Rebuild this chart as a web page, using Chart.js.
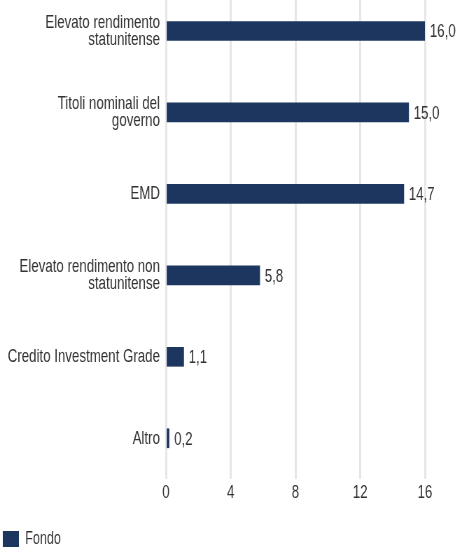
<!DOCTYPE html>
<html>
<head>
<meta charset="utf-8">
<script src="https://cdn.jsdelivr.net/npm/chart.js@4"></script>
<style>
  html, body { margin: 0; padding: 0; background: #fff; overflow: hidden; }
  /* the reference uses a condensed face; squeeze a regular one */
  #wrap { width: 651px; height: 549px; position: relative; transform: scaleX(0.70); transform-origin: 0 0; }
</style>
</head>
<body>
<div id="wrap"><canvas id="chart"></canvas></div>
<script>
// data
const categories = [
  ["Elevato rendimento", "statunitense"],
  ["Titoli nominali del", "governo"],
  "EMD",
  ["Elevato rendimento non", "statunitense"],
  "Credito Investment Grade",
  "Altro",
];
const fondo = [16.0, 15.0, 14.7, 5.8, 1.1, 0.2];
const xTicks = [0, 4, 8, 12, 16];
const seriesName = "Fondo";

const FONT = "'Liberation Sans', Arial, sans-serif";
const textColor = "#333333";
const barColor = "#1c365f";

// write the value next to each bar end
const valueLabels = {
  id: "valueLabels",
  afterDatasetsDraw(chart) {
    const ctx = chart.ctx;
    const meta = chart.getDatasetMeta(0);
    ctx.save();
    ctx.font = "19px " + FONT;
    ctx.fillStyle = textColor;
    ctx.textAlign = "left";
    ctx.textBaseline = "middle";
    meta.data.forEach((bar, i) => {
      const txt = fondo[i].toFixed(1).replace(".", ",");
      ctx.fillText(txt, bar.x + 7, bar.y + 1);
    });
    ctx.restore();
  },
};

const ctx = document.getElementById("chart");
new Chart(ctx, {
  type: "bar",
  data: {
    datasets: [
      {
        label: seriesName,
        data: fondo.map((v, i) => ({ x: v, y: i })),
        backgroundColor: barColor,
        barThickness: 19,
      },
    ],
  },
  options: {
    indexAxis: "y",
    responsive: true,
    maintainAspectRatio: false,
    animation: false,
    layout: { padding: { top: 0, right: 44, left: 0, bottom: -9 } },
    scales: {
      x: {
        type: "linear",
        min: 0,
        max: 16,
        afterBuildTicks: (scale) => {
          scale.ticks = xTicks.map((v) => ({ value: v }));
        },
        afterFit: (scale) => { scale.height = 47; },
        grid: { color: "#e6e6e6", lineWidth: 3, drawTicks: false },
        border: { display: false },
        ticks: {
          color: textColor,
          font: { family: FONT, size: 19 },
          padding: 2,
        },
      },
      y: {
        type: "linear",
        reverse: true,
        offset: false,
        bounds: "data",
        min: -0.38,
        max: 5.5,
        afterDataLimits: (scale) => {
          scale.min = -0.38;
          scale.max = 5.5;
        },
        afterBuildTicks: (scale) => {
          scale.ticks = categories.map((c, i) => ({ value: i }));
        },
        afterFit: (scale) => {
          scale.width = 237;
          scale.paddingTop = 0;
          scale.paddingBottom = 0;
        },
        grid: { display: false, drawTicks: false, offset: false },
        border: { display: false },
        ticks: {
          autoSkip: false,
          color: textColor,
          font: { family: FONT, size: 19, lineHeight: 0.88 },
          padding: 8.5,
          callback: (value) => categories[value],
        },
      },
    },
    plugins: {
      legend: {
        position: "bottom",
        align: "start",
        labels: {
          boxWidth: 23,
          boxHeight: 16,
          color: textColor,
          font: { family: FONT, size: 18 },
          padding: 4,
        },
      },
      tooltip: { enabled: false },
    },
  },
  plugins: [valueLabels],
});
</script>
</body>
</html>
